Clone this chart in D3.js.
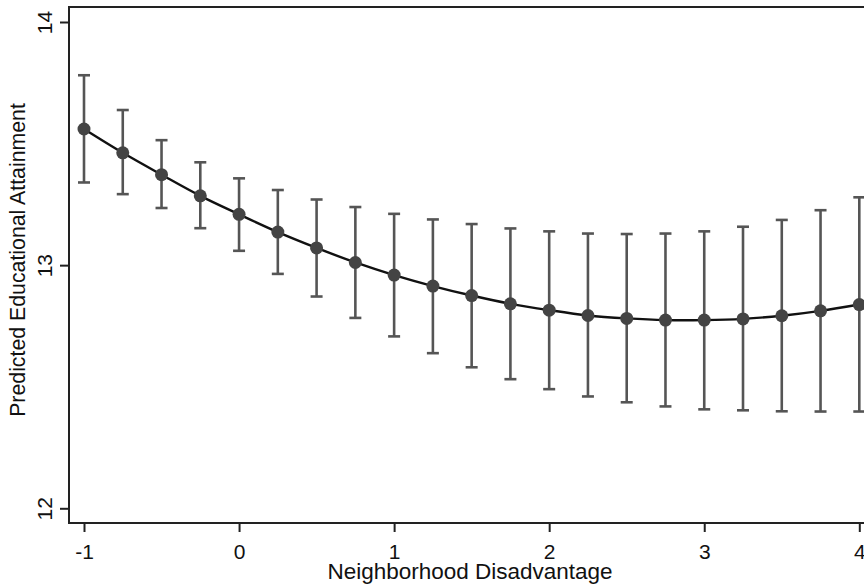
<!DOCTYPE html>
<html>
<head>
<meta charset="utf-8">
<script src="https://cdn.jsdelivr.net/npm/d3@7"></script>
<style>
  html, body { margin: 0; padding: 0; background: #fff; }
  svg { display: block; }
  text { font-family: "Liberation Sans", Arial, sans-serif; fill: #111; }
</style>
</head>
<body>
<svg id="chart" width="864" height="588"></svg>
<script>
// ---- data ----
const disadvantage = [-1, -0.75, -0.5, -0.25, 0, 0.25, 0.5, 0.75, 1, 1.25, 1.5, 1.75, 2, 2.25, 2.5, 2.75, 3, 3.25, 3.5, 3.75, 4];
const predicted = [13.560, 13.462, 13.372, 13.285, 13.209, 13.136, 13.071, 13.011, 12.959, 12.914, 12.875, 12.841, 12.815, 12.793, 12.781, 12.774, 12.774, 12.779, 12.792, 12.812, 12.838];
const upperCI = [13.781, 13.638, 13.514, 13.423, 13.357, 13.309, 13.270, 13.239, 13.211, 13.188, 13.169, 13.151, 13.139, 13.130, 13.128, 13.130, 13.139, 13.158, 13.186, 13.226, 13.279];
const lowerCI = [13.340, 13.292, 13.235, 13.152, 13.059, 12.964, 12.871, 12.783, 12.707, 12.638, 12.580, 12.531, 12.490, 12.460, 12.436, 12.419, 12.407, 12.403, 12.399, 12.398, 12.398];
const xTicks = [-1, 0, 1, 2, 3, 4];
const yTicks = [12, 13, 14];
const xTitle = "Neighborhood Disadvantage";
const yTitle = "Predicted Educational Attainment";

const data = disadvantage.map((d, i) => ({x: d, y: predicted[i], hi: upperCI[i], lo: lowerCI[i]}));

// ---- layout ----
const svg = d3.select("#chart");
const plot = {left: 69, top: 7, right: 876, bottom: 523};

const x = d3.scaleLinear().domain([-1, 4]).range([84, 859.3]);
const y = d3.scaleLinear().domain([12, 14]).range([508.3, 22]);

// frame (top + left + bottom; right edge lies beyond the visible area)
svg.append("rect")
  .attr("x", plot.left).attr("y", plot.top)
  .attr("width", plot.right - plot.left).attr("height", plot.bottom - plot.top)
  .attr("fill", "none").attr("stroke", "#222").attr("stroke-width", 2);

// axes
const xAxis = svg.append("g")
  .attr("transform", `translate(0,${plot.bottom})`)
  .call(d3.axisBottom(x).tickValues(xTicks).tickSize(9).tickPadding(6).tickFormat(d3.format("d")));
xAxis.select(".domain").remove();
xAxis.selectAll(".tick line").attr("stroke", "#222").attr("stroke-width", 2);
xAxis.selectAll(".tick text")
  .attr("font-size", 21).attr("fill", "#111")
  .attr("dy", null).attr("y", 36)
  .text(d => d < 0 ? "-" + Math.abs(d) : d);

const yAxis = svg.append("g")
  .attr("transform", `translate(${plot.left},0)`)
  .call(d3.axisLeft(y).tickValues(yTicks).tickSize(9).tickFormat(d3.format("d")));
yAxis.select(".domain").remove();
yAxis.selectAll(".tick line").attr("stroke", "#222").attr("stroke-width", 2);
yAxis.selectAll(".tick text")
  .attr("font-size", 21).attr("fill", "#111")
  .attr("x", null).attr("dy", null)
  .attr("text-anchor", "middle")
  .attr("transform", "translate(-17,0) rotate(-90)");

// titles
svg.append("text")
  .attr("x", 470).attr("y", 579)
  .attr("text-anchor", "middle")
  .attr("font-size", 22.5)
  .text(xTitle);

svg.append("text")
  .attr("transform", `translate(25,${(plot.top + plot.bottom) / 2 - 5}) rotate(-90)`)
  .attr("text-anchor", "middle")
  .attr("font-size", 21.3)
  .text(yTitle);

// error bars
const eb = svg.append("g").attr("stroke", "#555").attr("stroke-width", 2.6).attr("fill", "none");
const cap = 6;
eb.selectAll("line.v").data(data).join("line").attr("class", "v")
  .attr("x1", d => x(d.x)).attr("x2", d => x(d.x))
  .attr("y1", d => y(d.hi)).attr("y2", d => y(d.lo));
eb.selectAll("line.t").data(data).join("line").attr("class", "t")
  .attr("x1", d => x(d.x) - cap).attr("x2", d => x(d.x) + cap)
  .attr("y1", d => y(d.hi)).attr("y2", d => y(d.hi));
eb.selectAll("line.b").data(data).join("line").attr("class", "b")
  .attr("x1", d => x(d.x) - cap).attr("x2", d => x(d.x) + cap)
  .attr("y1", d => y(d.lo)).attr("y2", d => y(d.lo));

// fitted line
const line = d3.line().x(d => x(d.x)).y(d => y(d.y)).curve(d3.curveCatmullRom.alpha(0.5));
svg.append("path").datum(data)
  .attr("d", line)
  .attr("fill", "none").attr("stroke", "#111").attr("stroke-width", 2.4);

// points
svg.append("g").selectAll("circle").data(data).join("circle")
  .attr("cx", d => x(d.x)).attr("cy", d => y(d.y))
  .attr("r", 6.5).attr("fill", "#444");
</script>
</body>
</html>
